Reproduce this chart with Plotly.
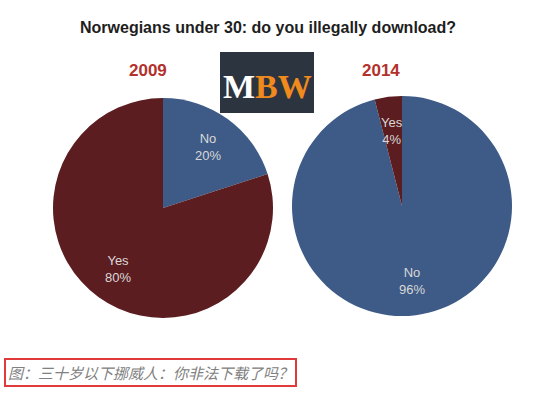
import math
import plotly.graph_objects as go

# ---- data ----
labels_2009 = ["No", "Yes"]
values_2009 = [20, 80]
labels_2014 = ["No", "Yes"]
values_2014 = [96, 4]
years = ["2009", "2014"]
title_text = "Norwegians under 30: do you illegally download?"
caption_text = "图：三十岁以下挪威人：你非法下载了吗？"

BLUE = "#3d5b86"
RED = "#5c1d20"
W, H = 550, 393
LABEL_FONT = dict(family="Liberation Sans, Arial", size=13, color="#d8d8d8")

def pie(labels, values, cx, cy, r):
    colors = [BLUE if l == "No" else RED for l in labels]
    return go.Pie(
        labels=labels, values=values, sort=False, direction="clockwise", rotation=0,
        marker=dict(colors=colors, line=dict(width=0)),
        textinfo="none",
        domain=dict(x=[(cx - r) / W, (cx + r) / W], y=[(H - cy - r) / H, (H - cy + r) / H]),
        showlegend=False, hoverinfo="label+percent",
    )

pies = [
    (labels_2009, values_2009, 163, 208, 110),
    (labels_2014, values_2014, 402, 206, 110),
]
fig = go.Figure()
ann = []
for labels, values, cx, cy, r in pies:
    fig.add_trace(pie(labels, values, cx, cy, r))
    # slice labels placed at each slice's mid-angle, derived from the values
    total = sum(values)
    start = 0.0
    for lab, val in zip(labels, values):
        frac = val / total
        mid = (start + frac / 2) * 2 * math.pi
        px = cx + 0.69 * r * math.sin(mid)
        py = cy - 0.69 * r * math.cos(mid)
        ann.append(dict(text=f"{lab}<br>{round(frac * 100)}%", x=px / W, y=1 - py / H,
                        xref="paper", yref="paper", xanchor="center", yanchor="middle",
                        showarrow=False, font=LABEL_FONT))
        start += frac

ann.append(dict(text="<b>" + title_text + "</b>", x=268 / W, y=1 - 28 / H, xref="paper", yref="paper",
                xanchor="center", yanchor="middle", showarrow=False,
                font=dict(family="Liberation Sans, Arial", size=16, color="#1e1e1e")))
for yr, xc in zip(years, [148, 381]):
    ann.append(dict(text="<b>" + yr + "</b>", x=xc / W, y=1 - 70 / H, xref="paper", yref="paper",
                    xanchor="center", yanchor="middle", showarrow=False,
                    font=dict(family="Liberation Sans, Arial", size=17, color="#b3312c")))
ann.append(dict(text="<b><span style='color:#ffffff'>M</span><span style='color:#f08a1c'>BW</span></b>",
                x=267 / W, y=1 - 86 / H, xref="paper", yref="paper", xanchor="center", yanchor="middle",
                showarrow=False, font=dict(family="Liberation Serif, DejaVu Serif", size=34, color="#ffffff")))
ann.append(dict(text="<i>" + caption_text + "</i>", x=4 / W, y=1 - 372 / H, xref="paper", yref="paper",
                xanchor="left", yanchor="middle", showarrow=False,
                bordercolor="#e03a3a", borderwidth=2, borderpad=2,
                font=dict(family="Noto Sans CJK SC", size=15, color="#808080")))

fig.update_layout(
    width=W, height=H, margin=dict(l=0, r=0, t=0, b=0),
    paper_bgcolor="white", plot_bgcolor="white",
    annotations=ann,
    shapes=[dict(type="rect", xref="paper", yref="paper", x0=220 / W, x1=314 / W,
                 y0=1 - 113 / H, y1=1 - 52 / H, fillcolor="#2c3440", line=dict(width=0), layer="below")],
)
fig.write_html("out.html", config={"displayModeBar": False},
               post_script="document.body.style.margin='0';")
